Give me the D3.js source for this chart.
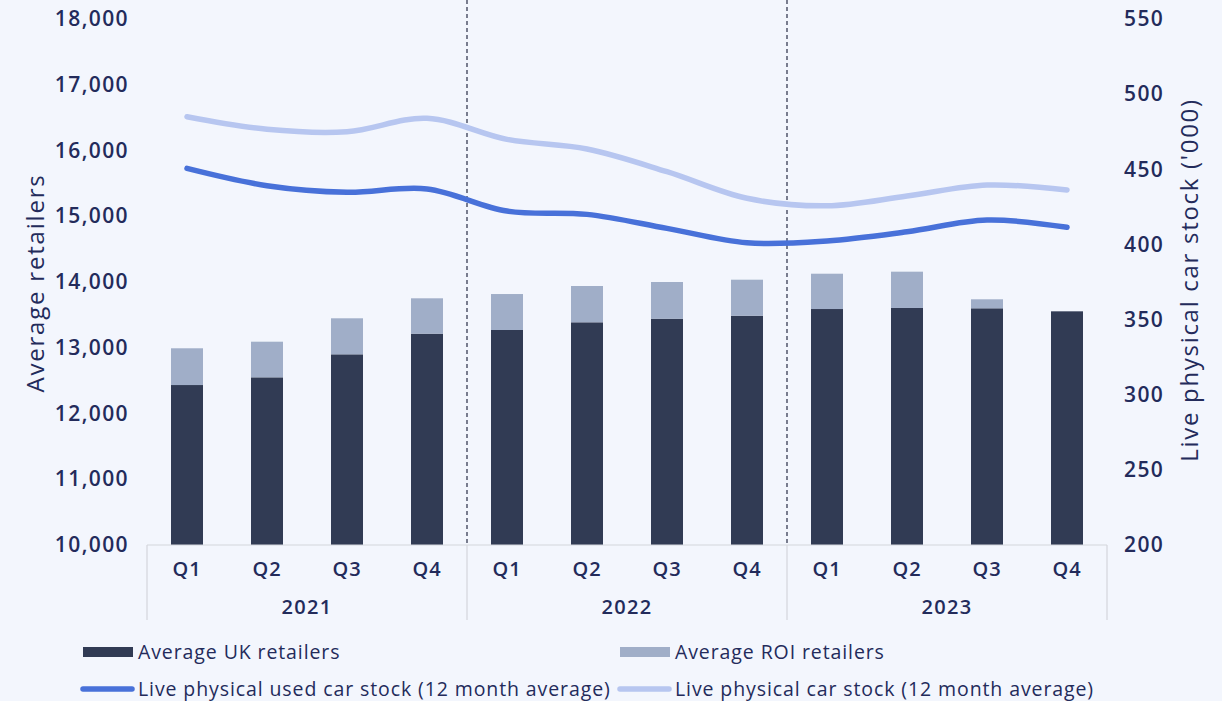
<!DOCTYPE html>
<html>
<head>
<meta charset="utf-8">
<script src="https://cdn.jsdelivr.net/npm/d3@7"></script>
<style>
  body { margin: 0; background: #f3f6fd; }
  svg { display: block; font-family: "Open Sans", Lato, sans-serif; }
</style>
</head>
<body>
<div id="chart"></div>
<script>
const years = ["2021", "2022", "2023"];
const quarters = ["Q1", "Q2", "Q3", "Q4"];
const ukRetailers = [12433, 12550, 12900, 13214, 13270, 13387, 13442, 13487, 13589, 13605, 13600, 13554];
const roiRetailers = [559, 542, 548, 538, 547, 552, 558, 548, 537, 552, 137, 0];
const usedStock = [450.6, 439.1, 434.7, 436.9, 422.2, 420.0, 410.7, 401.1, 402.3, 408.4, 416.2, 411.4];
const allStock = [485.0, 476.6, 475.0, 483.9, 469.9, 463.5, 448.4, 430.7, 425.7, 432.2, 439.5, 436.2];
const leftTicks = [10000, 11000, 12000, 13000, 14000, 15000, 16000, 17000, 18000];
const rightTicks = [200, 250, 300, 350, 400, 450, 500, 550];

const W = 1222, H = 701;
const margin = { top: 19, right: 115, bottom: 156, left: 147 };
const width = W - margin.left - margin.right;
const height = H - margin.top - margin.bottom;
const textColor = "#232b5b";
const font = "'Open Sans', Lato, sans-serif";

const keys = [];
years.forEach(y => quarters.forEach(q => keys.push(y + " " + q)));

const svg = d3.select("#chart").append("svg")
  .attr("width", W).attr("height", H);

svg.append("rect").attr("width", W).attr("height", H).attr("fill", "#f3f6fd");

const g = svg.append("g")
  .attr("transform", "translate(" + margin.left + "," + margin.top + ")");

const x = d3.scaleBand().domain(keys).range([0, width]).paddingInner(0.6).paddingOuter(0.3);
const y = d3.scaleLinear().domain([10000, 18000]).range([height, 0]);
const y2 = d3.scaleLinear().domain([200, 550]).range([height, 0]);

// left axis
const yAxis = g.append("g").call(d3.axisLeft(y).tickValues(leftTicks).tickSize(0).tickPadding(18).tickFormat(d3.format(",")));
yAxis.attr("font-family", font);
yAxis.select(".domain").remove();
yAxis.selectAll("text").attr("fill", textColor).style("font-size", "21px").style("font-weight", 600)
  .style("letter-spacing", "1.4px");

// right axis
const yAxis2 = g.append("g").attr("transform", "translate(" + width + ",0)")
  .call(d3.axisRight(y2).tickValues(rightTicks).tickSize(0).tickPadding(17));
yAxis2.attr("font-family", font);
yAxis2.select(".domain").remove();
yAxis2.selectAll("text").attr("fill", textColor).style("font-size", "21px").style("font-weight", 600)
  .style("letter-spacing", "1.4px");

// axis titles
svg.append("text")
  .attr("transform", "translate(44," + (margin.top + height / 2 + 1) + ") rotate(-90)")
  .attr("text-anchor", "middle").attr("fill", textColor)
  .style("font-size", "24px").style("font-weight", 500).style("letter-spacing", "1.8px")
  .text("Average retailers");
svg.append("text")
  .attr("transform", "translate(1198," + (margin.top + height / 2 - 2) + ") rotate(-90)")
  .attr("text-anchor", "middle").attr("fill", textColor)
  .style("font-size", "24px").style("font-weight", 500).style("letter-spacing", "1.7px")
  .text("Live physical car stock ('000)");

// stacked bars
const rows = keys.map((k, i) => ({ key: k, uk: ukRetailers[i], roi: roiRetailers[i] }));
const stack = d3.stack().keys(["uk", "roi"]).value((d, k) => k === "uk" ? d.uk - 10000 : d.roi);
const series = stack(rows);
const barColors = { uk: "#313b54", roi: "#a0aec8" };

g.selectAll(".series")
  .data(series)
  .join("g")
  .attr("fill", s => barColors[s.key])
  .selectAll("rect")
  .data(s => s)
  .join("rect")
  .attr("x", d => x(d.data.key))
  .attr("width", x.bandwidth())
  .attr("y", d => y(d[1] + 10000))
  .attr("height", d => y(d[0] + 10000) - y(d[1] + 10000));

// category axis frame
const frame = g.append("g").attr("stroke", "#d4d6dc").attr("stroke-width", 1.2);
frame.append("line").attr("x1", 0).attr("x2", width).attr("y1", height).attr("y2", height);
[0, 4, 8, 12].forEach(i => {
  const xp = i === 12 ? width : x(keys[i]) - x.step() * x.paddingInner() / 2;
  frame.append("line").attr("x1", xp).attr("x2", xp).attr("y1", height).attr("y2", height + 75);
});

// dashed year separators
[4, 8].forEach(i => {
  const xp = x(keys[i]) - x.step() * x.paddingInner() / 2;
  g.append("line")
    .attr("x1", xp).attr("x2", xp).attr("y1", -margin.top).attr("y2", height)
    .attr("stroke", "#141a36").attr("stroke-width", 1.1).attr("stroke-dasharray", "4,3");
});

// quarter labels
g.selectAll(".qlab")
  .data(keys)
  .join("text")
  .attr("x", d => x(d) + x.bandwidth() / 2)
  .attr("y", height + 31)
  .attr("text-anchor", "middle").attr("fill", textColor)
  .style("font-size", "20px").style("font-weight", 600).style("letter-spacing", "0.8px")
  .text(d => d.split(" ")[1]);

// year labels
g.selectAll(".ylab")
  .data(years)
  .join("text")
  .attr("x", (d, i) => (x(keys[i * 4]) + x(keys[i * 4 + 3]) + x.bandwidth()) / 2)
  .attr("y", height + 69)
  .attr("text-anchor", "middle").attr("fill", textColor)
  .style("font-size", "20px").style("font-weight", 600).style("letter-spacing", "1.3px")
  .text(d => d);

// lines
const line = d3.line()
  .x((d, i) => x(keys[i]) + x.bandwidth() / 2)
  .y(d => y2(d))
  .curve(d3.curveCatmullRom.alpha(0.5));

g.append("path").datum(allStock)
  .attr("fill", "none").attr("stroke", "#b7c6f0").attr("stroke-width", 5.5)
  .attr("stroke-linecap", "round").attr("d", line);
g.append("path").datum(usedStock)
  .attr("fill", "none").attr("stroke", "#4871d9").attr("stroke-width", 5.5)
  .attr("stroke-linecap", "round").attr("d", line);

// legend
const legendItems = [
  { label: "Average UK retailers", type: "rect", color: "#313b54", x: 83, y: 652 },
  { label: "Average ROI retailers", type: "rect", color: "#a0aec8", x: 620, y: 652 },
  { label: "Live physical used car stock (12 month average)", type: "line", color: "#4871d9", x: 83, y: 689 },
  { label: "Live physical car stock (12 month average)", type: "line", color: "#b7c6f0", x: 620, y: 689 }
];
const lg = svg.append("g").selectAll("g").data(legendItems).join("g")
  .attr("transform", d => "translate(" + d.x + "," + d.y + ")");
lg.filter(d => d.type === "rect").append("rect")
  .attr("x", 0).attr("y", -5).attr("width", 50).attr("height", 10).attr("fill", d => d.color);
lg.filter(d => d.type === "line").append("line")
  .attr("x1", 0).attr("x2", 49).attr("y1", 0).attr("y2", 0)
  .attr("stroke", d => d.color).attr("stroke-width", 5.5).attr("stroke-linecap", "round");
lg.append("text")
  .attr("x", 55).attr("y", 0).attr("dy", "0.35em")
  .attr("fill", textColor).style("font-size", "19.5px").style("font-weight", 500)
  .style("letter-spacing", "0.9px")
  .text(d => d.label);
</script>
</body>
</html>
